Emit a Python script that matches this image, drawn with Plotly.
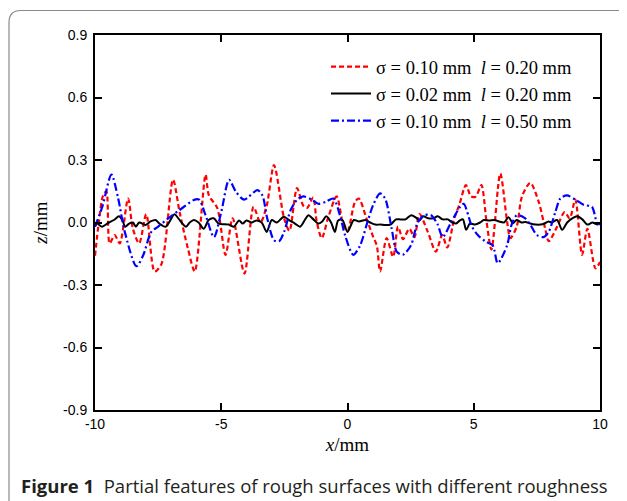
import plotly.graph_objects as go

# ---- data ----
red_x = [-10.0, -9.85, -9.68, -9.55, -9.42, -9.22, -9.02, -8.69, -8.5, -8.25, -7.97, -7.64, -7.37,
         -6.91, -6.65, -6.32, -6.05, -5.62, -5.49, -5.16, -4.83, -4.55, -4.08, -3.72, -3.45, -3.2,
         -2.91, -2.51, -2.3, -2.0, -1.75, -1.6, -1.36, -1.22, -1.02, -0.75, -0.43, -0.17, 0.0, 0.3,
         0.45, 0.75, 1.02, 1.16, 1.29, 1.55, 1.81, 2.0, 2.2, 2.45, 2.65, 2.85, 3.18, 3.5, 3.75, 3.95,
         4.23, 4.43, 4.69, 4.89, 5.08, 5.3, 5.5, 5.7, 6.05, 6.32, 6.45, 6.7, 6.91, 7.24, 7.57, 7.83,
         7.97, 8.3, 8.6, 8.8, 9.02, 9.29, 9.5, 9.82, 10.0]
red_z = [-0.16, 0.0, 0.13, 0.15, -0.10, -0.06, -0.10, 0.115, -0.03, -0.10, 0.04, -0.235, -0.20,
         0.205, 0.05, -0.125, -0.235, 0.23, 0.13, 0.07, -0.155, 0.02, -0.245, 0.075, 0.0, 0.08,
         0.275, 0.02, -0.04, 0.165, 0.08, 0.07, 0.12, 0.005, -0.075, 0.03, 0.125, -0.01, -0.04, 0.1,
         0.115, 0.02, -0.07, -0.11, -0.235, -0.075, -0.165, -0.02, -0.08, -0.03, -0.07, 0.04, -0.045,
         -0.14, -0.06, -0.12, 0.02, 0.085, 0.18, 0.125, 0.125, 0.18, 0.01, -0.13, 0.235, 0.005,
         -0.075, -0.02, 0.125, 0.19, 0.1, -0.03, -0.09, -0.02, 0.05, 0.02, 0.11, -0.155, -0.03,
         -0.22, -0.19]

black_x = [-10.0, -9.92, -9.72, -9.45, -9.25, -9.05, -8.92, -8.8, -8.65, -8.5, -8.38, -8.25, -8.0,
           -7.8, -7.6, -7.45, -7.2, -6.85, -6.7, -6.4, -6.25, -6.08, -5.9, -5.69, -5.5, -5.3, -5.1,
           -4.7, -4.5, -4.3, -4.15, -4.0, -3.8, -3.6, -3.4, -3.2, -3.0, -2.8, -2.52, -2.3, -2.08,
           -1.88, -1.69, -1.55, -1.35, -1.16, -1.0, -0.84, -0.65, -0.5, -0.37, -0.2, 0.0, 0.25, 0.45,
           0.71, 0.9, 1.1, 1.3, 1.5, 1.7, 1.92, 2.1, 2.3, 2.52, 2.7, 2.85, 3.0, 3.2, 3.4, 3.57,
           3.77, 3.97, 4.15, 4.3, 4.45, 4.57, 4.7, 4.85, 5.05, 5.25, 5.4, 5.6, 5.83, 6.0, 6.2, 6.38,
           6.55, 6.7, 6.9, 7.05, 7.24, 7.45, 7.65, 7.8, 7.96, 8.1, 8.3, 8.5, 8.7, 8.9, 9.1, 9.3,
           9.5, 9.7, 9.9, 10.0]
black_z = [-0.02, -0.005, -0.02, 0.0, 0.012, 0.03, 0.012, -0.02, -0.005, 0.0, -0.02, 0.0, -0.012,
           0.005, 0.012, -0.005, -0.02, 0.04, 0.02, -0.02, 0.0, 0.012, 0.0, -0.03, 0.012, 0.02,
           -0.005, -0.01, -0.02, 0.01, -0.005, 0.01, 0.0, 0.01, 0.0, -0.045, 0.012, 0.0, 0.028,
           0.01, -0.005, -0.02, 0.012, 0.035, 0.015, -0.005, 0.005, 0.03, 0.0, -0.045, 0.01, 0.012,
           -0.045, 0.012, 0.005, 0.012, 0.0, -0.01, -0.01, -0.012, -0.01, 0.015, 0.015, 0.015,
           0.035, 0.025, 0.01, 0.03, 0.02, 0.02, 0.03, 0.015, 0.015, 0.0, -0.005, 0.01, 0.015,
           -0.035, -0.005, -0.01, 0.0, 0.012, 0.01, 0.012, 0.005, 0.0, 0.025, -0.003, 0.012, 0.0,
           0.003, -0.005, -0.01, -0.01, -0.005, 0.005, 0.0, 0.012, -0.035, 0.0, 0.02, 0.03, 0.015,
           -0.01, 0.0, -0.01, 0.0]

blue_x = [-10.0, -9.7, -9.35, -9.09, -8.82, -8.36, -8.1, -7.77, -7.5, -7.1, -6.65, -6.05, -5.88,
          -5.62, -5.29, -5.0, -4.69, -4.43, -4.1, -3.57, -3.37, -3.18, -2.91, -2.71, -2.51, -2.25,
          -1.99, -1.75, -1.42, -1.16, -0.85, -0.56, -0.3, -0.1, 0.23, 0.5, 0.76, 1.02, 1.29, 1.49,
          1.75, 1.95, 2.19, 2.51, 2.78, 3.04, 3.31, 3.57, 3.77, 4.1, 4.43, 4.6, 4.93, 5.16, 5.45,
          5.75, 5.95, 6.32, 6.5, 6.71, 7.04, 7.24, 7.5, 7.77, 7.97, 8.23, 8.43, 8.69, 9.02, 9.35,
          9.68, 9.88, 10.0]
blue_z = [-0.02, 0.08, 0.23, 0.12, -0.045, -0.21, -0.16, -0.045, -0.02, 0.02, 0.06, 0.11, 0.11,
          0.035, -0.07, 0.05, 0.205, 0.15, 0.11, 0.155, 0.13, 0.02, -0.085, -0.09, -0.045, 0.06,
          0.11, 0.125, 0.11, 0.09, 0.1, 0.115, 0.035, -0.06, -0.155, -0.11, -0.01, 0.085, 0.14,
          0.115, -0.03, -0.14, -0.155, -0.11, 0.0, 0.035, 0.035, -0.01, -0.07, 0.0, 0.07, 0.09,
          -0.02, -0.06, -0.09, -0.11, -0.195, -0.11, -0.01, 0.035, 0.02, -0.01, -0.06, -0.07,
          -0.045, 0.05, 0.115, 0.13, 0.11, 0.085, 0.075, 0.0, -0.01]

series_names = ["σ = 0.10 mm&nbsp; <i>l</i> = 0.20 mm",
                "σ = 0.02 mm&nbsp; <i>l</i> = 0.20 mm",
                "σ = 0.10 mm&nbsp; <i>l</i> = 0.50 mm"]

x_ticks = [-10, -5, 0, 5, 10]
y_ticks = [0.9, 0.6, 0.3, 0.0, -0.3, -0.6, -0.9]

caption = "<b>Figure 1</b>&nbsp; Partial features of rough surfaces with different roughness"

fig = go.Figure()
fig.add_trace(go.Scatter(x=red_x, y=red_z, mode="lines", name=series_names[0],
                         line=dict(color="#ff0000", width=2.2, dash="5px,3px", shape="spline", smoothing=0.8)))
fig.add_trace(go.Scatter(x=black_x, y=black_z, mode="lines", name=series_names[1],
                         line=dict(color="#000000", width=2, shape="spline", smoothing=0.8)))
fig.add_trace(go.Scatter(x=blue_x, y=blue_z, mode="lines", name=series_names[2],
                         line=dict(color="#0000ff", width=2.2, dash="8px,3px,2px,3px", shape="spline", smoothing=0.8)))

axis_common = dict(showline=True, linecolor="black", linewidth=2, mirror="ticks",
                   ticks="inside", ticklen=7, tickwidth=2, tickcolor="black",
                   showgrid=False, zeroline=False,
                   tickfont=dict(family="Liberation Sans, Arial", size=14, color="black"))

fig.update_xaxes(range=[-10, 10], tickvals=x_ticks, ticktext=[str(v) for v in x_ticks],
                 title=dict(text="<i>x</i>/mm", font=dict(family="Liberation Serif, Times New Roman", size=19, color="black"), standoff=7),
                 **axis_common)
fig.update_yaxes(range=[-0.9, 0.9], tickvals=y_ticks, ticktext=[f"{v:.1f}" for v in y_ticks],
                 ticklabelstandoff=3,
                 title=dict(text="<i>z</i>/mm", font=dict(family="Liberation Serif, Times New Roman", size=19, color="black"), standoff=10),
                 **axis_common)

# page body adds an 8px offset; reference pixel coords are shifted by OFF
OFF = 8
W, H = 619, 493
L, R, T, B = 87, 27, 27, 91
pw, ph = W - L - R, H - T - B

def px(xp):
    return (xp - OFF - L) / pw

def py(yp):
    return (H - B - (yp - OFF)) / ph

x0, y0 = px(9), py(10.5)
x1, y1 = px(660), py(540)
dx, dy = 12 / pw, 12 / ph
path = (f"M {x0},{y1} L {x0},{y0 - dy} Q {x0},{y0} {x0 + dx},{y0} L {x1},{y0}")

fig.update_layout(
    width=W, height=H,
    margin=dict(l=L, r=R, t=T, b=B),
    paper_bgcolor="white", plot_bgcolor="white",
    showlegend=True,
    legend=dict(x=px(326), y=py(48), xanchor="left", yanchor="top",
                bgcolor="rgba(0,0,0,0)", borderwidth=0,
                font=dict(family="Liberation Serif, Times New Roman", size=18.5, color="black"),
                itemwidth=40, tracegroupgap=0),
    shapes=[dict(type="path", path=path, xref="paper", yref="paper",
                 line=dict(color="#8a8a8a", width=1.2), layer="below")],
    annotations=[dict(text=caption, xref="paper", yref="paper", x=px(19), y=py(485),
                      xanchor="left", yanchor="middle", showarrow=False,
                      font=dict(family="Open Sans", size=18.5, color="#231f20"))],
)

fig.write_html("out.html")
